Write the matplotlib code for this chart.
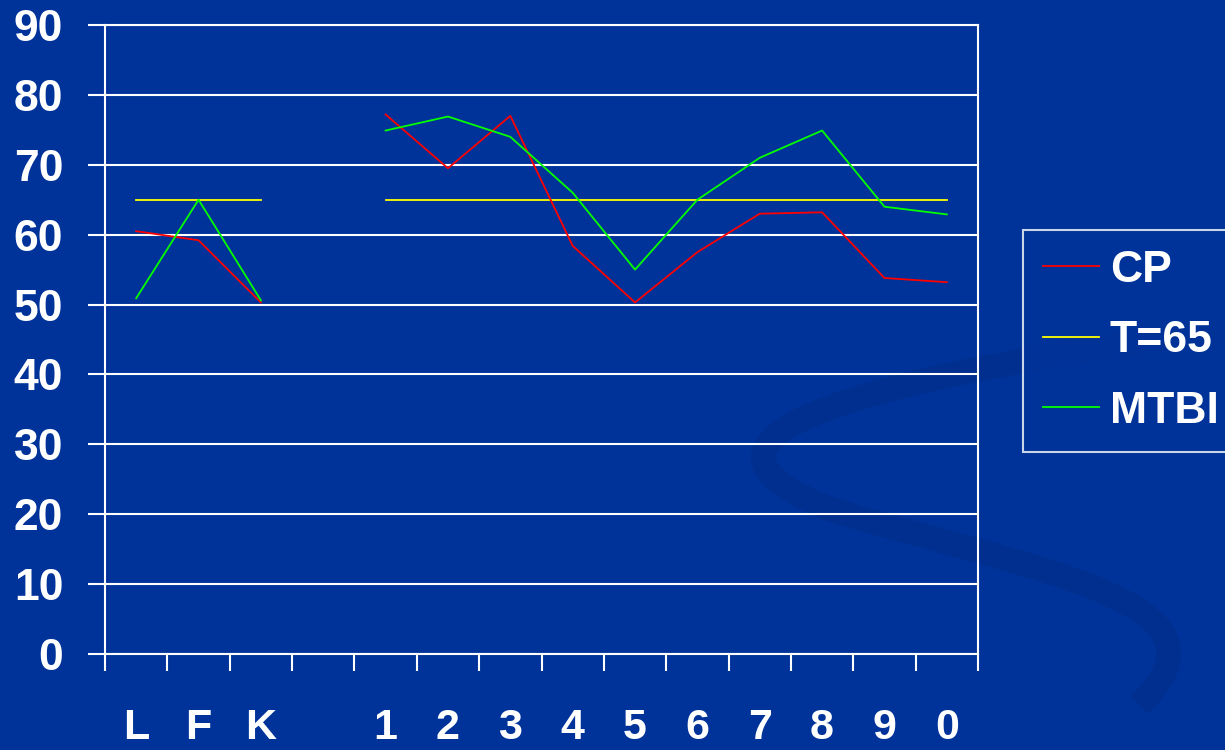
import numpy as np
import matplotlib
matplotlib.use("Agg")
import matplotlib.pyplot as plt
from matplotlib.path import Path
from matplotlib.patches import PathPatch

# categories along the x axis (one empty slot between the two groups)
categories = ['L', 'F', 'K', '', '1', '2', '3', '4', '5', '6', '7', '8', '9', '0']
cp = [60.5, 59.2, 50.3, np.nan, 77.2, 69.5, 77.0, 58.4, 50.3, 57.5, 63.0, 63.2, 53.8, 53.2]
threshold = [65, 65, 65, np.nan, 65, 65, 65, 65, 65, 65, 65, 65, 65, 65]
mtbi = [50.9, 65.0, 50.6, np.nan, 74.9, 76.9, 74.0, 66.0, 55.0, 65.0, 71.0, 74.9, 64.0, 62.9]

BG = '#003399'
plt.rcParams['font.family'] = ['Liberation Sans', 'DejaVu Sans']
plt.rcParams['font.weight'] = 'bold'

fig = plt.figure(figsize=(12.25, 7.5), dpi=100, facecolor=BG)

# faint swirl in the background, on its own axes underneath the chart
bg = fig.add_axes([0, 0, 1, 1], zorder=-1)
bg.set_xlim(0, 1)
bg.set_ylim(0, 1)
bg.axis('off')
swirl = Path([(1.0, 0.56), (0.72, 0.50), (0.52, 0.42), (0.68, 0.32),
              (0.84, 0.24), (1.02, 0.20), (0.93, 0.06)],
             [Path.MOVETO, Path.CURVE4, Path.CURVE4, Path.CURVE4,
              Path.CURVE4, Path.CURVE4, Path.CURVE4])
bg.add_patch(PathPatch(swirl, fill=False, edgecolor='#002a80', lw=18, alpha=0.35))

ax = fig.add_axes([105 / 1225, 96 / 750, 873 / 1225, 629 / 750], zorder=1)
ax.set_facecolor('none')

x = np.arange(len(categories))
ax.plot(x, cp, color='#ff0000', lw=1.3, label='CP', zorder=3)
ax.plot(x, threshold, color='#ffff00', lw=1.3, label='T=65', zorder=2)
ax.plot(x, mtbi, color='#00ff00', lw=1.3, label='MTBI', zorder=4)

ax.set_xlim(-0.5, len(categories) - 0.5)
ax.set_ylim(0, 90)
ax.set_yticks(range(0, 91, 10))
ax.yaxis.grid(True, color='white', lw=1.5)
ax.set_axisbelow(True)

ax.set_xticks(x)
ax.set_xticklabels(categories)
ax.set_xticks(np.arange(-0.5, len(categories), 1), minor=True)
ax.tick_params(axis='x', which='major', length=0, pad=39, labelsize=31, colors='white')
ax.tick_params(axis='x', which='minor', length=12, width=1.5, color='white', direction='out')
ax.tick_params(axis='y', length=12, width=1.5, color='white', pad=18, labelsize=32, labelcolor='white')

for s in ax.spines.values():
    s.set_color('white')
    s.set_linewidth(1.5)

leg = ax.legend(loc='upper left', bbox_to_anchor=(1023 / 1225, 520 / 750),
                bbox_transform=fig.transFigure, fontsize=32, frameon=True,
                fancybox=False, handlelength=1.25, handletextpad=0.25,
                labelspacing=0.66, borderpad=0.45, borderaxespad=0)
leg.get_frame().set_facecolor(BG)
leg.get_frame().set_edgecolor('white')
leg.get_frame().set_linewidth(1.5)
for t in leg.get_texts():
    t.set_color('white')

fig.savefig('out.png', dpi=100, facecolor=BG)
